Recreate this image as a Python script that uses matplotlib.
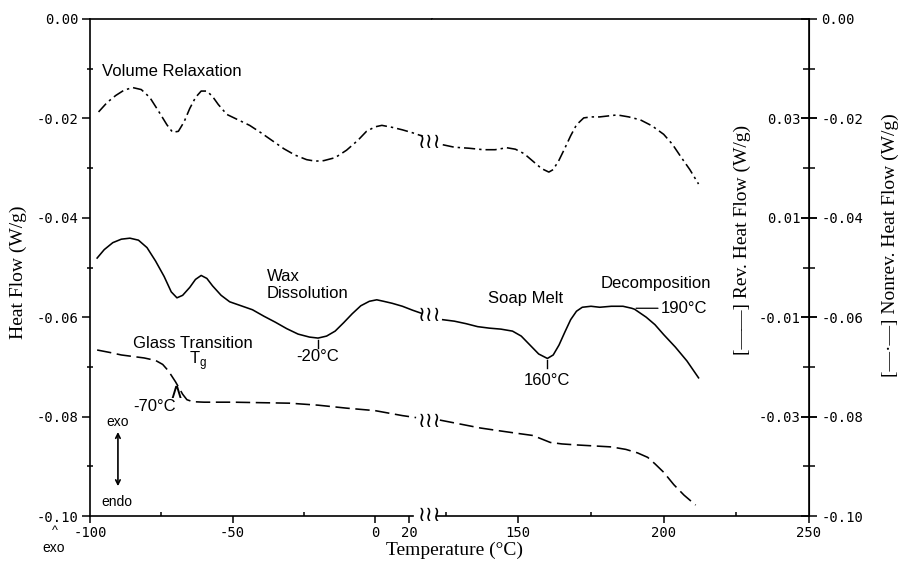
import numpy as np
import matplotlib.pyplot as plt
from matplotlib.ticker import FormatStrFormatter

plt.rcParams['axes.unicode_minus'] = False

# Nonreversing heat flow (dash-dot), below and above the axis break
nonrev_lo_t = [-97, -94, -91, -88, -85, -82, -79, -76, -73, -71, -69, -67, -65, -63,
               -61, -59, -57, -55, -52, -48, -44, -40, -36, -32, -28, -24, -21, -18,
               -14, -10, -6, -3, 0, 4, 10, 16, 22, 28]
nonrev_lo_hf = [-0.0187, -0.0168, -0.0154, -0.0143, -0.0138, -0.0142, -0.0158, -0.0185,
                -0.0213, -0.0228, -0.0226, -0.0207, -0.0180, -0.0158, -0.0145, -0.0145,
                -0.0156, -0.0172, -0.0192, -0.0203, -0.0214, -0.0229, -0.0245, -0.0261,
                -0.0274, -0.0283, -0.0286, -0.0285, -0.0279, -0.0264, -0.0244, -0.0226,
                -0.0217, -0.0214, -0.0218, -0.0223, -0.0229, -0.0236]
nonrev_hi_t = [124, 128, 133, 138, 142, 146, 149, 152, 155, 158, 160.5, 162, 164, 166,
               168, 170, 172.5, 175, 178, 181, 184, 188, 192, 196, 200, 203, 206, 209, 212]
nonrev_hi_hf = [-0.0253, -0.0258, -0.0260, -0.0263, -0.0263, -0.0259, -0.0262, -0.0271,
                -0.0286, -0.0301, -0.0308, -0.0303, -0.0284, -0.0260, -0.0235, -0.0213,
                -0.0199, -0.0197, -0.0197, -0.0195, -0.0193, -0.0197, -0.0203, -0.0215,
                -0.0232, -0.0252, -0.0278, -0.0303, -0.0332]

# Reversing heat flow (solid)
rev_lo_t = [-97.5, -95, -92, -89, -86, -83, -80, -77, -74, -71.5, -69.5, -67.5, -65, -63,
            -61, -59, -57, -54, -51, -47, -43, -39, -35, -31, -27, -23, -20, -17, -14,
            -11, -8, -5, -2, 1, 5, 10, 16, 22, 27]
rev_lo_hf = [-0.0481, -0.0464, -0.0450, -0.0443, -0.0441, -0.0445, -0.0460, -0.0487,
             -0.0518, -0.0549, -0.0561, -0.0556, -0.0540, -0.0524, -0.0516, -0.0522,
             -0.0537, -0.0556, -0.0569, -0.0577, -0.0585, -0.0598, -0.0610, -0.0623,
             -0.0634, -0.0640, -0.0642, -0.0638, -0.0628, -0.0611, -0.0593, -0.0577,
             -0.0568, -0.0565, -0.0568, -0.0572, -0.0578, -0.0586, -0.0592]
rev_hi_t = [124, 128, 132, 136, 140, 144, 148, 151, 154, 157, 160, 162, 164, 166, 168,
            170, 172, 175, 178, 182, 186, 189, 190, 191, 194, 197, 200, 204, 208, 212]
rev_hi_hf = [-0.0605, -0.0608, -0.0613, -0.0619, -0.0622, -0.0624, -0.0628, -0.0638,
             -0.0656, -0.0674, -0.0683, -0.0676, -0.0656, -0.0630, -0.0605, -0.0588,
             -0.0580, -0.0578, -0.0580, -0.0578, -0.0578, -0.0582, -0.0584, -0.0588,
             -0.0600, -0.0615, -0.0635, -0.0660, -0.0688, -0.0722]

# Total heat flow (dashed)
total_lo_t = [-97.5, -93, -89, -85, -81, -77, -74.5, -72.5, -70, -69, -67.5, -66, -64,
              -60, -50, -40, -30, -20, -10, 0, 8, 16, 24]
total_lo_hf = [-0.0666, -0.0671, -0.0676, -0.0679, -0.0682, -0.0687, -0.0695, -0.0708,
               -0.0730, -0.0740, -0.0755, -0.0766, -0.0770, -0.0771, -0.0771, -0.0772,
               -0.0773, -0.0777, -0.0783, -0.0788, -0.0793, -0.0798, -0.0802]
total_hi_t = [123, 130, 137, 144, 150, 155, 158, 161, 165, 170, 176, 182, 187, 191,
              194.5, 197, 200, 203.5, 207, 211]
total_hi_hf = [-0.0807, -0.0815, -0.0823, -0.0829, -0.0834, -0.0838, -0.0845, -0.0852,
               -0.0855, -0.0857, -0.0859, -0.0861, -0.0866, -0.0873, -0.0882, -0.0895,
               -0.0912, -0.0937, -0.0958, -0.0978]

hf_ticks = [0.00, -0.02, -0.04, -0.06, -0.08, -0.10]
rev_ticks = [0.03, 0.01, -0.01, -0.03]
rev_offset = 0.05
lo_ticks = [-100, -50, 0, 20]
hi_ticks = [150, 200, 250]

tg, wax_peak, soap_peak, decomp = -70, -20, 160, 190

sans = 'Liberation Sans'
serif = 'Liberation Serif'
mono = 'DejaVu Sans Mono'


def squeeze(t):
    t = np.asarray(t, float)
    return np.where(t > 0, t * 0.6, t)


def unsqueeze(v):
    v = np.asarray(v, float)
    return np.where(v > 0, v / 0.6, v)


fig = plt.figure(figsize=(9.02, 5.72), dpi=100)
ax1 = fig.add_axes([90 / 902, 56 / 572, 342 / 902, 497 / 572])
ax2 = fig.add_axes([432 / 902, 56 / 572, 377 / 902, 497 / 572], sharey=ax1)

ax1.set_xscale('function', functions=(squeeze, unsqueeze))
ax1.set_xlim(-100, 33.3)
ax2.set_xlim(120.3, 250)
ax1.set_ylim(-0.10, 0.0)

lw = 1.15
dashdot = (0, (7, 2.5, 1.5, 2.5))
dashed = (0, (9, 3.5))
for ax, (nt, nh), (rt, rh), (tt, th) in [
        (ax1, (nonrev_lo_t, nonrev_lo_hf), (rev_lo_t, rev_lo_hf), (total_lo_t, total_lo_hf)),
        (ax2, (nonrev_hi_t, nonrev_hi_hf), (rev_hi_t, rev_hi_hf), (total_hi_t, total_hi_hf))]:
    ax.plot(nt, nh, color='black', lw=lw, linestyle=dashdot)
    ax.plot(rt, rh, color='black', lw=lw)
    ax.plot(tt, th, color='black', lw=lw, linestyle=dashed)

# spines / ticks
ax1.spines['right'].set_visible(False)
ax2.spines['left'].set_visible(False)
ax1.spines['bottom'].set_bounds(-100, 22)
ax2.spines['bottom'].set_bounds(122, 250)
for ax in (ax1, ax2):
    for s in ax.spines.values():
        s.set_linewidth(1.2)

ax1.set_xticks(lo_ticks)
ax1.set_xticks([-75, -25], minor=True)
ax2.set_xticks(hi_ticks)
ax2.set_xticks([125, 175, 225], minor=True)
ax1.set_yticks(hf_ticks)
ax1.set_yticks([-0.01, -0.03, -0.05, -0.07, -0.09], minor=True)
ax1.yaxis.set_major_formatter(FormatStrFormatter('%.2f'))

for ax in (ax1, ax2):
    ax.tick_params(axis='x', which='major', direction='out', length=5, width=1.1,
                   labelsize=10, labelfontfamily=mono, pad=2)
    ax.tick_params(axis='x', which='minor', direction='in', length=3, width=1.1)
ax1.tick_params(axis='y', which='major', direction='out', length=6, width=1.1,
                labelsize=10, labelfontfamily=mono, pad=2)
ax1.tick_params(axis='y', which='minor', direction='inout', length=5, width=1.1)

ax2.yaxis.tick_right()
ax2.tick_params(axis='y', which='major', direction='inout', length=12, width=1.1,
                labelsize=10, labelfontfamily=mono, pad=3, labelright=True, left=False)
ax2.tick_params(axis='y', which='minor', direction='inout', length=8, width=1.1, left=False)

# reversing scale printed just inside the right border
sec = ax2.secondary_yaxis(1.0, functions=(lambda y: y + rev_offset, lambda y: y - rev_offset))
sec.set_alignment('left')
sec.set_yticks(rev_ticks)
sec.yaxis.set_major_formatter(FormatStrFormatter('%.2f'))
sec.tick_params(axis='y', direction='inout', length=12, width=1.1, labelsize=10,
                labelfontfamily=mono, pad=0)

# axis break marks
brk = ax2.get_yaxis_transform()
for yb in [-0.0248, -0.0596, -0.0809, -0.0998]:
    ax2.text(-0.006, yb, '≀≀≀', transform=brk, ha='center', va='center', fontsize=15,
             family='DejaVu Sans', clip_on=False)

# annotations
txt = dict(family=sans, fontsize=12, color='black')
ax1.text(-95.8, -0.0105, 'Volume Relaxation', ha='left', va='center', **txt)
ax1.text(-37.9, -0.0535, 'Wax\nDissolution', ha='left', va='center', linespacing=1.15, **txt)
ax1.text(-64, -0.0652, 'Glass Transition', ha='center', va='center', **txt)
ax1.text(-62, -0.0688, 'T$_\\mathregular{g}$', ha='center', va='center', **txt)

y_wax = rev_lo_hf[rev_lo_t.index(wax_peak)]
ax1.plot([wax_peak, wax_peak], [y_wax - 0.0004, y_wax - 0.0019], color='black', lw=1)
ax1.text(wax_peak, y_wax - 0.0038, '%d°C' % wax_peak, ha='center', va='center', **txt)

y_tg = total_lo_hf[total_lo_t.index(tg)]
ax1.text(tg, y_tg - 0.0020, '∧', ha='center', va='center', fontsize=15, family='DejaVu Sans')
ax1.text(-77.5, -0.0780, '%d°C' % tg, ha='center', va='center', **txt)

ax1.text(-90.2, -0.0811, 'exo', ha='center', va='center', family=sans, fontsize=10)
ax1.text(-90.7, -0.0972, 'endo', ha='center', va='center', family=sans, fontsize=10)
ax1.annotate('', xy=(-90.2, -0.0831), xytext=(-90.2, -0.0940),
             arrowprops=dict(arrowstyle='<->', lw=1.2, mutation_scale=8,
                             shrinkA=0, shrinkB=0))

ax2.text(152.4, -0.0563, 'Soap Melt', ha='center', va='center', **txt)
y_soap = rev_hi_hf[rev_hi_t.index(soap_peak)]
ax2.plot([soap_peak, soap_peak], [y_soap - 0.0004, y_soap - 0.0019], color='black', lw=1)
ax2.text(soap_peak, y_soap - 0.0045, '%d°C' % soap_peak, ha='center', va='center', **txt)

ax2.text(197.2, -0.0533, 'Decomposition', ha='center', va='center', **txt)
y_dec = rev_hi_hf[rev_hi_t.index(decomp)]
ax2.annotate('%d°C' % decomp, xy=(decomp + 0.5, y_dec + 0.0002), xytext=(199, -0.0582),
             ha='left', va='center',
             arrowprops=dict(arrowstyle='-', lw=0.9, shrinkA=0, shrinkB=0), **txt)

# axis titles
lab = dict(family=serif, fontsize=14, color='black')
fig.text(454 / 902, 1 - 550 / 572, 'Temperature (°C)', ha='center', va='center', **lab)
fig.text(18 / 902, 1 - 272 / 572, 'Heat Flow (W/g)', ha='center', va='center',
         rotation=90, **lab)
fig.text(742 / 902, 1 - 240 / 572, '[——] Rev. Heat Flow (W/g)', ha='center', va='center',
         rotation=90, **lab)
fig.text(890 / 902, 1 - 245 / 572, '[—·—] Nonrev. Heat Flow (W/g)', ha='center',
         va='center', rotation=90, **lab)
fig.text(55 / 902, 1 - 531 / 572, '^', ha='center', va='center', family=sans, fontsize=9)
fig.text(54 / 902, 1 - 548 / 572, 'exo', ha='center', va='center', family=sans, fontsize=10)

fig.savefig('out.png', dpi=100)
